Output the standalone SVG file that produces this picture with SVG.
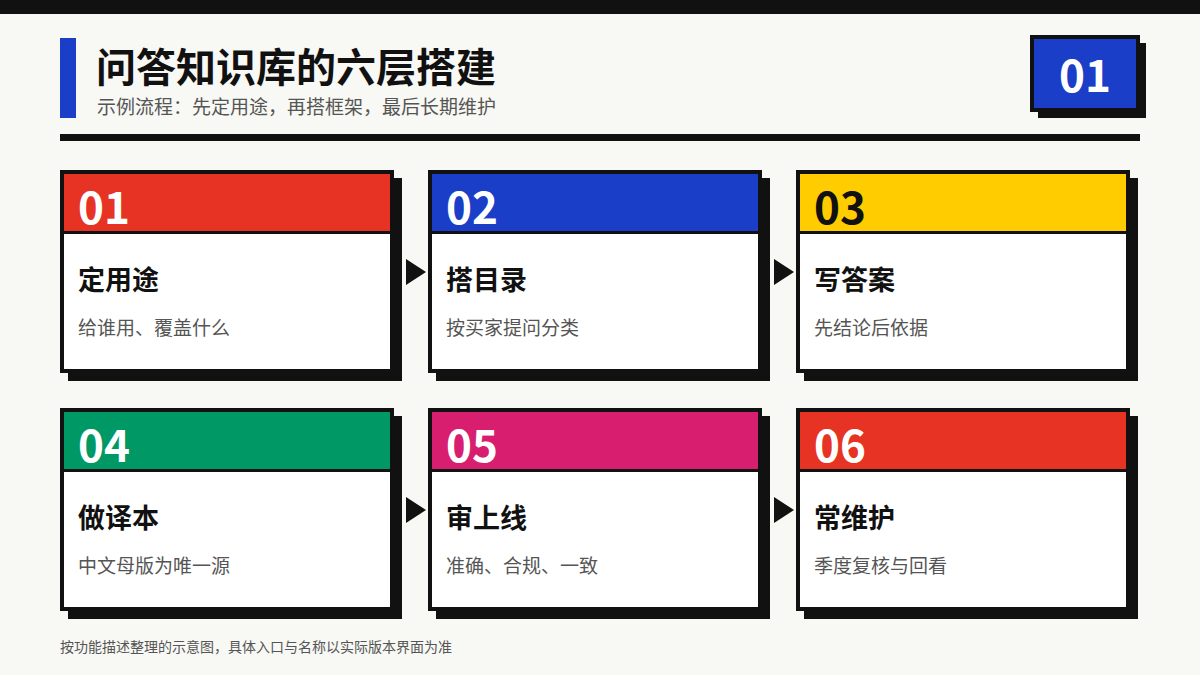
<svg xmlns="http://www.w3.org/2000/svg" width="1200" height="675" viewBox="0 0 1200 675">
<style>
text{font-family:"Noto Sans CJK SC","Noto Sans",sans-serif}
.num{font-size:44px;font-weight:700;fill:#fff}
.num.dk{fill:#111}
.ttl{font-size:27px;font-weight:700;fill:#111}
.dsc{font-size:19px;fill:#555}
.shadow{fill:#111}
.body{fill:#fff}
.frame{fill:none;stroke:#111;stroke-width:4}
.div{stroke:#111;stroke-width:3}
.arrow{fill:#111}
</style>
<rect x="0" y="0" width="1200" height="675" fill="#F8F8F4"/>
<rect x="0" y="0" width="1200" height="14" fill="#111"/>
<g id="header">
<rect x="60" y="38" width="16" height="80" fill="#1A3EC8"/>
<text x="96" y="82" style="font-size:40px;font-weight:700;fill:#111">问答知识库的六层搭建</text>
<text x="97" y="114" style="font-size:19px;fill:#555">示例流程：先定用途，再搭框架，最后长期维护</text>
<rect x="60" y="134" width="1080" height="7" fill="#111"/>
</g>
<g id="badge">
<rect x="1038" y="43" width="108" height="75" class="shadow"/>
<rect x="1032" y="37" width="106" height="73" fill="#1A3EC8" stroke="#111" stroke-width="4"/>
<text x="1085" y="92" text-anchor="middle" class="num">01</text>
</g>
<g id="card1">
<rect x="68" y="178" width="334" height="203" class="shadow"/>
<rect x="62" y="172" width="330" height="199" class="body"/>
<rect x="62" y="172" width="330" height="60" fill="#E63323"/>
<line x1="62" y1="232.5" x2="392" y2="232.5" class="div"/>
<rect x="62" y="172" width="330" height="199" class="frame"/>
<text x="78" y="224" class="num">01</text>
<text x="78" y="290" class="ttl">定用途</text>
<text x="78" y="335" class="dsc">给谁用、覆盖什么</text>
</g>
<g id="card2">
<rect x="436" y="178" width="334" height="203" class="shadow"/>
<rect x="430" y="172" width="330" height="199" class="body"/>
<rect x="430" y="172" width="330" height="60" fill="#1A3EC8"/>
<line x1="430" y1="232.5" x2="760" y2="232.5" class="div"/>
<rect x="430" y="172" width="330" height="199" class="frame"/>
<text x="446" y="224" class="num">02</text>
<text x="446" y="290" class="ttl">搭目录</text>
<text x="446" y="335" class="dsc">按买家提问分类</text>
</g>
<g id="card3">
<rect x="804" y="178" width="334" height="203" class="shadow"/>
<rect x="798" y="172" width="330" height="199" class="body"/>
<rect x="798" y="172" width="330" height="60" fill="#FFCC00"/>
<line x1="798" y1="232.5" x2="1128" y2="232.5" class="div"/>
<rect x="798" y="172" width="330" height="199" class="frame"/>
<text x="814" y="224" class="num dk">03</text>
<text x="814" y="290" class="ttl">写答案</text>
<text x="814" y="335" class="dsc">先结论后依据</text>
</g>
<g id="card4">
<rect x="68" y="416" width="334" height="203" class="shadow"/>
<rect x="62" y="410" width="330" height="199" class="body"/>
<rect x="62" y="410" width="330" height="60" fill="#009966"/>
<line x1="62" y1="470.5" x2="392" y2="470.5" class="div"/>
<rect x="62" y="410" width="330" height="199" class="frame"/>
<text x="78" y="462" class="num">04</text>
<text x="78" y="528" class="ttl">做译本</text>
<text x="78" y="573" class="dsc">中文母版为唯一源</text>
</g>
<g id="card5">
<rect x="436" y="416" width="334" height="203" class="shadow"/>
<rect x="430" y="410" width="330" height="199" class="body"/>
<rect x="430" y="410" width="330" height="60" fill="#D81E6E"/>
<line x1="430" y1="470.5" x2="760" y2="470.5" class="div"/>
<rect x="430" y="410" width="330" height="199" class="frame"/>
<text x="446" y="462" class="num">05</text>
<text x="446" y="528" class="ttl">审上线</text>
<text x="446" y="573" class="dsc">准确、合规、一致</text>
</g>
<g id="card6">
<rect x="804" y="416" width="334" height="203" class="shadow"/>
<rect x="798" y="410" width="330" height="199" class="body"/>
<rect x="798" y="410" width="330" height="60" fill="#E63323"/>
<line x1="798" y1="470.5" x2="1128" y2="470.5" class="div"/>
<rect x="798" y="410" width="330" height="199" class="frame"/>
<text x="814" y="462" class="num">06</text>
<text x="814" y="528" class="ttl">常维护</text>
<text x="814" y="573" class="dsc">季度复核与回看</text>
</g>
<g id="connectors">
<path d="M406 259 L426 272 L406 285 Z" class="arrow"/>
<path d="M774 259 L794 272 L774 285 Z" class="arrow"/>
<path d="M406 497 L426 510 L406 523 Z" class="arrow"/>
<path d="M774 497 L794 510 L774 523 Z" class="arrow"/>
</g>
<text x="60" y="652" style="font-size:14px;fill:#555">按功能描述整理的示意图，具体入口与名称以实际版本界面为准</text>
</svg>
